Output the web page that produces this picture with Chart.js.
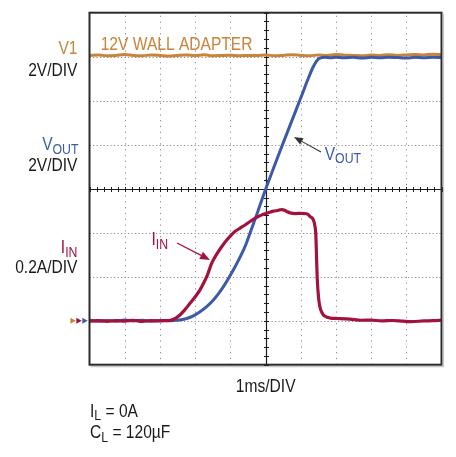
<!DOCTYPE html>
<html><head><meta charset="utf-8">
<script src="https://cdn.jsdelivr.net/npm/chart.js@4.4.1/dist/chart.umd.min.js"></script>
<style>html,body{margin:0;padding:0;background:#fff;overflow:hidden}#wrap{width:456px;height:457px}</style>
</head><body><div id="wrap"><canvas id="c" width="456" height="457"></canvas></div>
<script>
// ---- data (time in ms, centre of screen = 0) ----
const v1Time = [-5,-4.75,-4.5,-4.25,-4,-3.75,-3.5,-3.25,-3,-2.75,-2.5,-2.25,-2,-1.75,-1.5,-1.25,-1,-0.75,-0.5,-0.25,0,0.25,0.5,0.75,1,1.25,1.5,1.75,2,2.25,2.5,2.75,3,3.25,3.5,3.75,4,4.25,4.5,4.75,5];
const v1Volts = [12.06,12.08,12.04,12.06,12.10,12.05,12.04,12.08,12.06,12.03,12.06,12.08,12.05,12.09,12.04,12.06,12.07,12.04,12.06,12.05,12.08,12.04,12.06,12.09,12.06,12.04,12.08,12.06,12.10,12.07,12.06,12.04,12.08,12.06,12.09,12.06,12.08,12.10,12.08,12.11,12.09];

const voutTime = [-5,-4.75,-4.5,-4.25,-4,-3.75,-3.5,-3.25,-3,-2.75,-2.55,-2.4,-2.24,-2.05,-1.86,-1.67,-1.48,-1.34,-1.2,-1.06,-0.915,-0.77,-0.63,-0.53,-0.44,-0.34,-0.25,-0.108,0.0,0.2,0.4,0.6,0.8,1.0,1.2,1.35,1.45,1.52,1.6,1.7,1.85,2.0,2.25,2.5,2.75,3.0,3.25,3.5,3.75,4.0,4.25,4.5,4.75,5.0];
const voutVolts = [0.02,-0.03,0.01,-0.02,0.03,-0.01,0.02,-0.02,0.01,0.0,0.02,0.04,0.1,0.22,0.41,0.64,0.94,1.22,1.54,1.9,2.3,2.74,3.2,3.58,3.98,4.42,4.82,5.48,5.96,6.82,7.66,8.48,9.3,10.12,10.95,11.52,11.8,11.92,11.96,11.97,11.95,11.98,11.95,11.97,11.94,11.97,11.95,11.98,11.96,11.94,11.97,11.95,11.98,11.96];

const iinTime = [-5,-4.75,-4.5,-4.25,-4,-3.75,-3.5,-3.25,-3,-2.85,-2.7,-2.55,-2.43,-2.3,-2.145,-2.0,-1.86,-1.76,-1.67,-1.6,-1.53,-1.44,-1.34,-1.22,-1.1,-0.98,-0.87,-0.72,-0.58,-0.44,-0.3,-0.12,0.08,0.22,0.35,0.45,0.55,0.62,0.7,0.85,1.0,1.17,1.28,1.36,1.41,1.43,1.45,1.47,1.51,1.55,1.62,1.69,1.84,2.06,2.4,2.72,3.0,3.3,3.6,3.9,4.14,4.5,4.75,5.0];
const iinAmps = [-0.002,0.001,-0.003,0.0,-0.002,0.002,-0.003,0.0,-0.001,0.0,0.002,0.012,0.026,0.048,0.079,0.108,0.14,0.17,0.2,0.23,0.261,0.288,0.314,0.342,0.367,0.388,0.405,0.421,0.435,0.451,0.465,0.48,0.491,0.498,0.501,0.505,0.502,0.495,0.49,0.487,0.488,0.486,0.472,0.458,0.425,0.39,0.29,0.192,0.1,0.06,0.032,0.02,0.012,0.01,0.007,0.002,0.003,-0.001,0.001,-0.002,-0.004,-0.001,0.0,0.002];

// ground-reference markers left of the screen (V1, IIN, VOUT)
const markerTime = [-5.47,-5.30,-5.13];
const markerLevel = [0,0,0];

// scope graticule
const gridTimes = [-4,-3,-2,-1,1,2,3,4];
const gridVolts = [0,2,4,8,10,12];

const ORANGE = '#C9833A', BLUE = '#3D5AA8', RED = '#A3113D';
const markerColors = [ORANGE, RED, BLUE];
const FF = '"Liberation Sans",Arial,sans-serif';
const NARROW = 0.82;

const zip = (xs, ys) => xs.map((x, i) => ({x, y: ys[i]}));

function sized(ctx, px){ ctx.font = px + 'px ' + FF; }
function runText(ctx, parts, x, y, color, align){
  ctx.save();
  ctx.textAlign = 'left'; ctx.textBaseline = 'alphabetic'; ctx.fillStyle = color;
  let total = 0;
  for (const [t, s] of parts){ sized(ctx, s ? 15 : 19); total += ctx.measureText(t).width * NARROW; }
  let cx = align === 'right' ? x - total : align === 'center' ? x - total / 2 : x;
  for (const [t, s] of parts){
    sized(ctx, s ? 15 : 19);
    ctx.save();
    ctx.translate(cx, s ? y + 3.5 : y);
    ctx.scale(NARROW, 1);
    ctx.fillText(t, 0, 0);
    ctx.restore();
    cx += ctx.measureText(t).width * NARROW;
  }
  ctx.restore();
}
function label(ctx, s, x, y, color, align){ runText(ctx, [[s, false]], x, y, color, align); }
function arrow(ctx, x0, y0, x1, y1, color, w, hl, hw){
  const ang = Math.atan2(y1 - y0, x1 - x0);
  ctx.save(); ctx.strokeStyle = color; ctx.fillStyle = color; ctx.lineWidth = w;
  const bx = x1 - Math.cos(ang) * hl, by = y1 - Math.sin(ang) * hl;
  ctx.beginPath(); ctx.moveTo(x0, y0); ctx.lineTo(bx, by); ctx.stroke();
  ctx.beginPath(); ctx.moveTo(x1, y1);
  ctx.lineTo(bx + Math.sin(ang) * hw, by - Math.cos(ang) * hw);
  ctx.lineTo(bx - Math.sin(ang) * hw, by + Math.cos(ang) * hw);
  ctx.closePath(); ctx.fill(); ctx.restore();
}

const scopePlugin = {
  id: 'scope',
  beforeDatasetsDraw(chart){
    const {ctx, chartArea: a, scales} = chart;
    const xs = scales.x, ys = scales.yV;
    ctx.save();
    ctx.strokeStyle = '#8c8c8c'; ctx.lineWidth = 1;
    ctx.setLineDash([1.2, 4.6]);
    for (const t of gridTimes){
      const x = Math.round(xs.getPixelForValue(t)) + 0.5;
      ctx.beginPath(); ctx.moveTo(x, a.top + 3); ctx.lineTo(x, a.bottom); ctx.stroke();
    }
    ctx.setLineDash([1.2, 2.3]);
    for (const v of gridVolts){
      const y = Math.round(ys.getPixelForValue(v)) + 0.5;
      ctx.beginPath(); ctx.moveTo(a.left, y); ctx.lineTo(a.right, y); ctx.stroke();
    }
    ctx.setLineDash([]);
    const cx = Math.round(xs.getPixelForValue(0)) + 0.5;
    const cy = Math.round(ys.getPixelForValue(6)) + 0.5;
    ctx.strokeStyle = '#1c1c1c'; ctx.lineWidth = 1.2;
    ctx.beginPath(); ctx.moveTo(cx, a.top); ctx.lineTo(cx, a.bottom);
    ctx.moveTo(a.left, cy); ctx.lineTo(a.right, cy); ctx.stroke();
    ctx.lineWidth = 1;
    ctx.beginPath();
    for (let k = -25; k <= 25; k++){
      const x = Math.round(xs.getPixelForValue(k * 0.2)) + 0.5;
      ctx.moveTo(x, cy - 2.5); ctx.lineTo(x, cy + 2.5);
    }
    for (let k = -20; k <= 20; k++){
      const y = Math.round(ys.getPixelForValue(6 + k * 0.4)) + 0.5;
      ctx.moveTo(cx - 2.5, y); ctx.lineTo(cx + 2.5, y);
    }
    ctx.stroke();
    ctx.restore();
  },
  afterDraw(chart){
    const {ctx, chartArea: a, scales} = chart;
    ctx.save();
    ctx.strokeStyle = '#2a2a2a'; ctx.lineWidth = 2;
    ctx.strokeRect(a.left, a.top, a.right - a.left, a.bottom - a.top);
    ctx.strokeStyle = '#c8c8c8'; ctx.lineWidth = 1.2;
    ctx.beginPath(); ctx.moveTo(a.right + 2, a.top + 1); ctx.lineTo(a.right + 2, a.bottom + 2); ctx.lineTo(a.left + 1, a.bottom + 2); ctx.stroke();

    // ground markers (positioned through the chart scales)
    markerTime.forEach((t, i) => {
      const px = scales.x.getPixelForValue(t), py = scales.yV.getPixelForValue(markerLevel[i]);
      ctx.fillStyle = markerColors[i];
      ctx.beginPath(); ctx.moveTo(px + 2.8, py); ctx.lineTo(px - 2.6, py - 3); ctx.lineTo(px - 2.6, py + 3); ctx.closePath(); ctx.fill();
    });

    // left channel labels
    label(ctx, 'V1', 77.5, 53.5, ORANGE, 'right');
    label(ctx, '2V/DIV', 77.5, 76, '#1a1a1a', 'right');
    runText(ctx, [['V', false], ['OUT', true]], 78.5, 150, BLUE, 'right');
    label(ctx, '2V/DIV', 77.5, 170.7, '#1a1a1a', 'right');
    runText(ctx, [['I', false], ['IN', true]], 77.5, 253.3, RED, 'right');
    label(ctx, '0.2A/DIV', 77.5, 273.3, '#1a1a1a', 'right');

    // in-plot annotations
    label(ctx, '12V WALL ADAPTER', 100.7, 50, ORANGE, 'left');
    runText(ctx, [['V', false], ['OUT', true]], 324.7, 159.5, BLUE, 'left');
    arrow(ctx, 321, 152, 294, 137, '#333', 1.1, 9, 3.6);
    runText(ctx, [['I', false], ['IN', true]], 151.5, 245, RED, 'left');
    arrow(ctx, 177, 243, 210, 260, RED, 1.3, 10, 4);

    // bottom texts
    label(ctx, '1ms/DIV', 265.7, 391.7, '#1a1a1a', 'center');
    runText(ctx, [['I', false], ['L', true], [' = 0A', false]], 90, 416.7, '#1a1a1a', 'left');
    runText(ctx, [['C', false], ['L', true], [' = 120µF', false]], 90, 438.3, '#1a1a1a', 'left');
    ctx.restore();
  }
};

new Chart(document.getElementById('c'), {
  type: 'line',
  data: {
    datasets: [
      { label: 'IIN', data: zip(iinTime, iinAmps), yAxisID: 'yI', borderColor: RED, borderWidth: 3.2,
        pointRadius: 0, cubicInterpolationMode: 'monotone', order: 1 },
      { label: 'VOUT', data: zip(voutTime, voutVolts), yAxisID: 'yV', borderColor: BLUE, borderWidth: 3,
        pointRadius: 0, cubicInterpolationMode: 'monotone', order: 2 },
      { label: 'V1', data: zip(v1Time, v1Volts), yAxisID: 'yV', borderColor: ORANGE, borderWidth: 3,
        pointRadius: 0, cubicInterpolationMode: 'monotone', order: 3 }
    ]
  },
  options: {
    responsive: false, animation: false, devicePixelRatio: 1,
    layout: { padding: { left: 89.5, top: 12.7, right: 14.5, bottom: 92.3 } },
    plugins: { legend: { display: false }, tooltip: { enabled: false } },
    scales: {
      x: { type: 'linear', min: -5, max: 5, display: false },
      yV: { type: 'linear', min: -2, max: 14, display: false },
      yI: { type: 'linear', min: -0.2, max: 1.4, display: false }
    }
  },
  plugins: [scopePlugin]
});
</script>
</body></html>
